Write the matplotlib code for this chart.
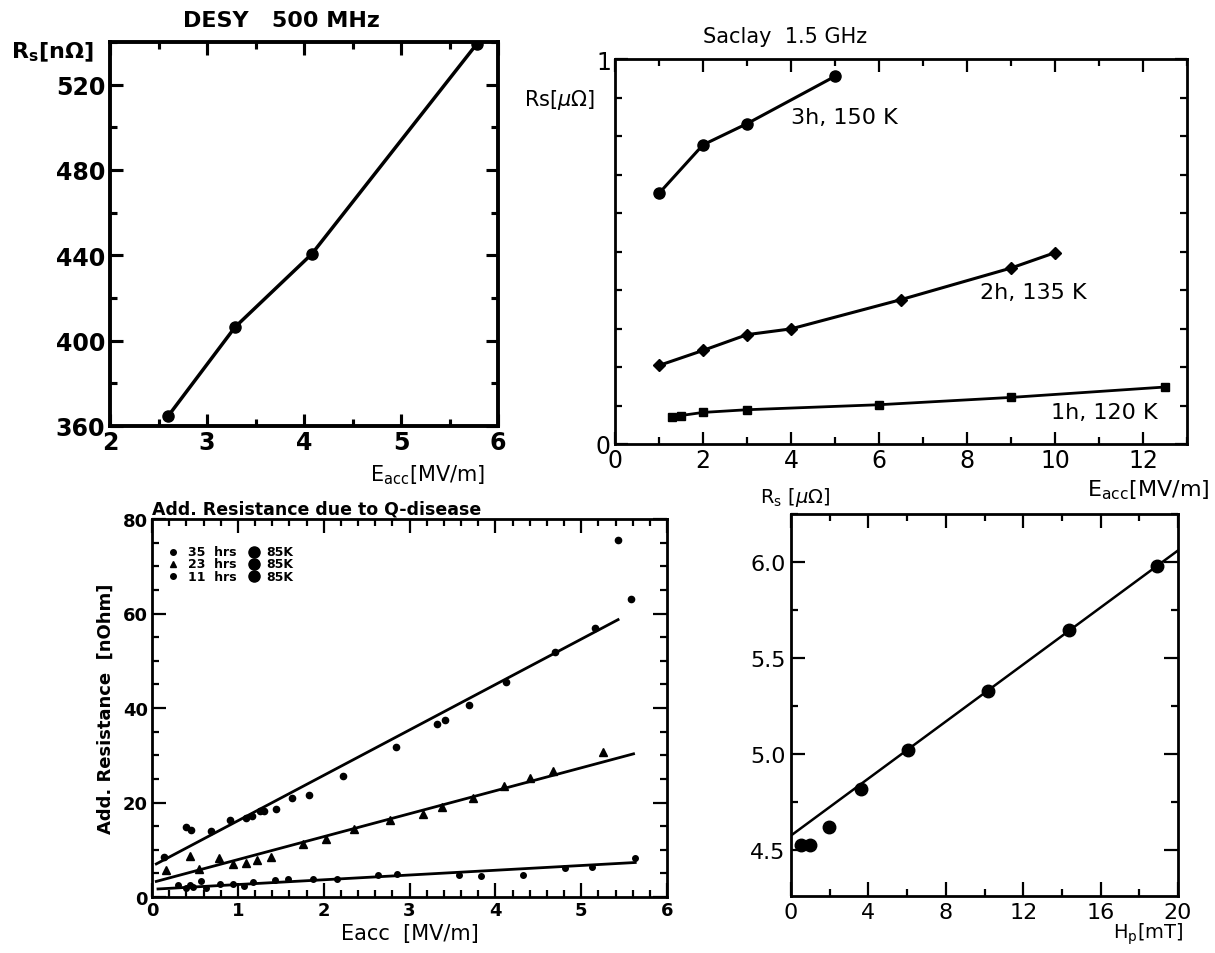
import matplotlib.pyplot as plt
import numpy as np

# DESY 500 MHz
desy_e = [2.6, 3.29, 4.08, 5.78]
desy_rs = [364.7, 406.4, 440.6, 539.0]

# Saclay 1.5 GHz
sac3_e = [1, 2, 3, 5]
sac3_rs = [0.651, 0.777, 0.832, 0.955]
sac2_e = [1, 2, 3, 4, 6.5, 9, 10]
sac2_rs = [0.204, 0.243, 0.284, 0.299, 0.375, 0.457, 0.497]
sac1_e = [1.3, 1.5, 2, 3, 6, 9, 12.5]
sac1_rs = [0.071, 0.074, 0.082, 0.089, 0.102, 0.121, 0.148]

# Q-disease additional resistance
h35_e = [0.14, 0.40, 0.46, 0.69, 0.91, 1.10, 1.17, 1.26, 1.31, 1.44, 1.63, 1.83,
         2.22, 2.84, 3.32, 3.41, 3.69, 4.13, 4.70, 5.16, 5.58, 5.43]
h35_r = [8.5, 14.9, 14.2, 14.0, 16.4, 16.7, 17.2, 18.1, 18.2, 18.6, 20.9, 21.6,
         25.7, 31.7, 36.6, 37.5, 40.6, 45.6, 51.9, 57.0, 63.1, 75.5]
h23_e = [0.16, 0.44, 0.55, 0.78, 0.94, 1.10, 1.22, 1.39, 1.76, 2.03, 2.35, 2.77,
         3.16, 3.38, 3.74, 4.10, 4.40, 4.67, 5.26]
h23_r = [5.8, 8.6, 5.9, 8.2, 7.0, 7.3, 7.8, 8.5, 11.2, 12.3, 14.4, 16.4,
         17.6, 19.0, 20.9, 23.4, 25.1, 26.6, 30.6]
h11_e = [0.30, 0.40, 0.44, 0.48, 0.57, 0.63, 0.79, 0.94, 1.07, 1.18, 1.43, 1.59,
         1.87, 2.16, 2.63, 2.86, 3.58, 3.83, 4.32, 4.81, 5.13, 5.63]
h11_r = [2.5, 2.0, 2.5, 2.2, 3.4, 2.0, 2.7, 2.7, 2.4, 3.2, 3.7, 3.8,
         3.9, 3.8, 4.6, 4.9, 4.7, 4.4, 4.7, 6.1, 6.3, 8.2]
fit35_e, fit35_r = [0.05, 5.43], [7.0, 58.7]
fit23_e, fit23_r = [0.05, 5.61], [3.3, 30.3]
fit11_e, fit11_r = [0.07, 5.63], [1.7, 7.3]

# Rs vs peak field
hp = [0.5, 0.98, 1.98, 3.6, 6.06, 10.2, 14.37, 18.9]
rs_hp = [4.528, 4.528, 4.62, 4.82, 5.018, 5.33, 5.647, 5.977]
fit_hp, fit_rs = [0, 20], [4.575, 6.06]

W, H = 1215, 954
fig = plt.figure(figsize=(W / 100, H / 100), dpi=100)


def box(l, r, t, b):
    return [l / W, 1 - b / H, (r - l) / W, (b - t) / H]


def style(ax, lw):
    for s in ax.spines.values():
        s.set_linewidth(lw)
    ax.tick_params(which='both', direction='in', top=True, right=True, width=lw * 0.8)
    ax.tick_params(which='major', length=9)
    ax.tick_params(which='minor', length=5)


# --- DESY ---
ax1 = fig.add_axes(box(110, 498, 43, 427))
ax1.plot(desy_e, desy_rs, '-o', color='black', lw=2.5, ms=8)
ax1.set_xlim(2, 6)
ax1.set_ylim(360, 540)
ax1.set_xticks([2, 3, 4, 5, 6])
ax1.set_xticks(np.arange(2, 6.01, 0.5), minor=True)
ax1.set_yticks([360, 400, 440, 480, 520])
ax1.set_yticks(np.arange(360, 541, 20), minor=True)
style(ax1, 2.8)
for lab in ax1.get_xticklabels() + ax1.get_yticklabels():
    lab.set_fontsize(17)
    lab.set_fontweight('bold')
ax1.tick_params(axis='x', pad=3)
ax1.text(0.188, 1.03, 'DESY   500 MHz', transform=ax1.transAxes, ha='left',
         va='bottom', fontsize=16, fontweight='bold')
ax1.text(-0.255, 0.975, r'R$_\mathbf{s}$[n$\mathbf{\Omega}$]', transform=ax1.transAxes,
         ha='left', va='center', fontsize=16, fontweight='bold')
ax1.text(0.67, -0.094, r'E$_{\mathrm{acc}}$[MV/m]', transform=ax1.transAxes,
         ha='left', va='top', fontsize=15)

# --- Saclay ---
ax2 = fig.add_axes(box(615, 1187, 60, 445))
ax2.plot(sac3_e, sac3_rs, '-o', color='black', lw=2.2, ms=8)
ax2.plot(sac2_e, sac2_rs, '-D', color='black', lw=2.2, ms=6)
ax2.plot(sac1_e, sac1_rs, '-s', color='black', lw=2.0, ms=6)
ax2.text(4.0, 0.85, '3h, 150 K', fontsize=16, ha='left', va='center')
ax2.text(8.3, 0.395, '2h, 135 K', fontsize=16, ha='left', va='center')
ax2.text(9.9, 0.083, '1h, 120 K', fontsize=16, ha='left', va='center')
ax2.set_xlim(0, 13)
ax2.set_ylim(0, 1)
ax2.set_xticks([0, 2, 4, 6, 8, 10, 12])
ax2.set_xticks(np.arange(0, 13.01, 1), minor=True)
ax2.set_yticks([0, 1])
ax2.set_yticks(np.arange(0, 1.01, 0.1), minor=True)
style(ax2, 2.0)
ax2.tick_params(labelsize=17, pad=3)
ax2.text(0.154, 1.034, 'Saclay  1.5 GHz', transform=ax2.transAxes, ha='left',
         va='bottom', fontsize=15)
ax2.text(-0.035, 0.896, r'Rs[$\mu\Omega$]', transform=ax2.transAxes,
         ha='right', va='center', fontsize=15)
ax2.text(1.04, -0.088, r'E$_{\mathrm{acc}}$[MV/m]', transform=ax2.transAxes,
         ha='right', va='top', fontsize=16)

# --- Q-disease ---
ax3 = fig.add_axes(box(152, 667, 520, 898))
ax3.plot(fit35_e, fit35_r, color='black', lw=2)
ax3.plot(fit23_e, fit23_r, color='black', lw=2)
ax3.plot(fit11_e, fit11_r, color='black', lw=2)
ax3.plot(h35_e, h35_r, 'o', color='black', ms=4.5)
ax3.plot(h23_e, h23_r, '^', color='black', ms=5.5)
ax3.plot(h11_e, h11_r, 'o', color='black', ms=4)
ax3.set_xlim(0, 6)
ax3.set_ylim(0, 80)
ax3.set_xticks(range(7))
ax3.set_xticks(np.arange(0, 6.01, 0.2), minor=True)
ax3.set_yticks([0, 20, 40, 60, 80])
ax3.set_yticks(np.arange(0, 81, 5), minor=True)
style(ax3, 2.0)
ax3.tick_params(which='major', length=10)
ax3.tick_params(which='minor', length=5)
for lab in ax3.get_xticklabels() + ax3.get_yticklabels():
    lab.set_fontsize(13)
    lab.set_fontweight('bold')
ax3.tick_params(axis='x', pad=3)
ax3.tick_params(axis='y', pad=3)
ax3.set_title('Add. Resistance due to Q-disease', loc='left', fontsize=12.5,
              fontweight='semibold', pad=4)
ax3.set_ylabel('Add. Resistance  [nOhm]', fontsize=13, fontweight='bold', labelpad=6)
ax3.set_xlabel('Eacc  [MV/m]', fontsize=15, labelpad=3)
leg_rows = [('o', 4, '35  hrs'), ('^', 5, '23  hrs'), ('o', 4, '11  hrs')]
for i, (mk, sz, txt) in enumerate(leg_rows):
    yy = 0.913 - 0.032 * i
    ax3.plot([0.041], [yy], mk, color='black', ms=sz, transform=ax3.transAxes, clip_on=False)
    ax3.text(0.07, yy, txt, transform=ax3.transAxes, fontsize=9, fontweight='bold', va='center')
    ax3.plot([0.198], [yy], 'o', color='black', ms=8, transform=ax3.transAxes, clip_on=False)
    ax3.text(0.222, yy, '85K', transform=ax3.transAxes, fontsize=9, fontweight='bold', va='center')

# --- Rs vs Hp ---
ax4 = fig.add_axes(box(791, 1178, 515, 897))
ax4.plot(fit_hp, fit_rs, color='black', lw=1.8)
ax4.plot(hp, rs_hp, 'o', color='black', ms=9)
ax4.set_xlim(0, 20)
ax4.set_ylim(4.26, 6.25)
ax4.set_xticks([0, 4, 8, 12, 16, 20])
ax4.set_xticks(np.arange(0, 20.01, 2), minor=True)
ax4.set_yticks([4.5, 5.0, 5.5, 6.0])
ax4.set_yticks(np.arange(4.5, 6.26, 0.25), minor=True)
ax4.set_yticklabels(['4.5', '5.0', '5.5', '6.0'])
style(ax4, 2.0)
ax4.tick_params(which='major', length=10)
ax4.tick_params(labelsize=16, pad=4)
ax4.text(-0.08, 1.045, r'R$_\mathrm{s}$ [$\mu\Omega$]', transform=ax4.transAxes,
         ha='left', va='center', fontsize=14)
ax4.text(1.013, -0.065, r'H$_\mathrm{p}$[mT]', transform=ax4.transAxes,
         ha='right', va='top', fontsize=14)

fig.savefig('out.png', dpi=100)
plt.close(fig)
